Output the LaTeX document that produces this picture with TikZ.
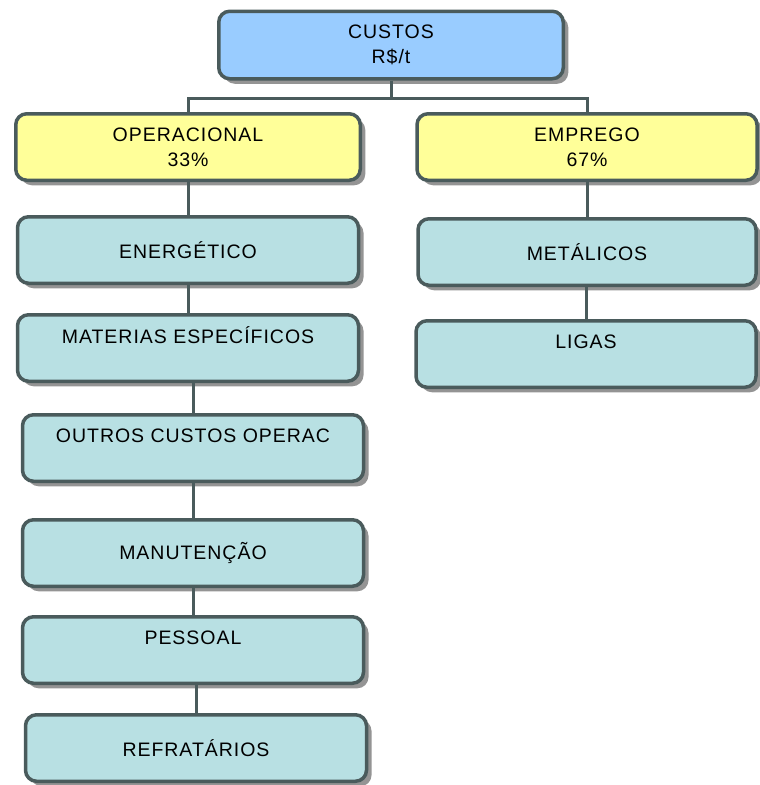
\documentclass[tikz,border=0pt]{standalone}
\usepackage{fontspec}
\setmainfont{Liberation Sans}[LetterSpace=5]
\usepackage{tikz}
\usetikzlibrary{positioning,shadows}
\definecolor{CustoBlue}{HTML}{99CCFF}
\definecolor{CustoYellow}{HTML}{FFFF99}
\definecolor{CustoTeal}{HTML}{B8E0E3}
\definecolor{CustoSlate}{HTML}{4A5B5C}

\begin{document}
\begin{tikzpicture}[
            font=\fontsize{19.5}{25}\selectfont,
            box/.style={draw=CustoSlate, line width=3.5pt, rounded corners=11pt, minimum width=341pt, minimum height=66.5pt, inner sep=0pt, align=center,
                drop shadow={shadow xshift=5pt, shadow yshift=-5pt, fill=black!42, opacity=1}},
            rootbox/.style={box, fill=CustoBlue, minimum width=344.5pt, minimum height=67.5pt},
            groupbox/.style={box, fill=CustoYellow},
            itembox/.style={box, fill=CustoTeal},
            link/.style={draw=CustoSlate, line width=3pt},
        ]
        \useasboundingbox (0,0) rectangle (760pt,-785pt);

        \node[rootbox] (custos) at (391pt,-45pt) {CUSTOS\\R\$/t};
        \node[groupbox, minimum width=344.5pt] (oper) at (188pt,-147pt) {OPERACIONAL\\33\%};
        \node[groupbox, minimum width=340pt] (empreg) at (587pt,-147pt) {EMPREGO\\67\%};

        \node[itembox, below=33pt of oper] (energ) {ENERGÉTICO};
        \node[itembox, below=28pt of energ] (mater) {MATERIAS ESPECÍFICOS\\ \mbox{}};
        \node[itembox, below=30pt of mater, xshift=5pt] (outros) {OUTROS CUSTOS OPERAC\\ \mbox{}};
        \node[itembox, below=35pt of outros] (manut) {MANUTENÇÃO};
        \node[itembox, below=27pt of manut] (pessoal) {PESSOAL\\ \mbox{}};
        \node[itembox, below=28pt of pessoal, xshift=3pt] (refrat) {REFRATÁRIOS};

        \node[itembox, below=35pt of empreg, minimum width=338pt] (metal) {METÁLICOS};
        \node[itembox, below=32pt of metal, minimum width=340pt, xshift=-1pt] (ligas) {LIGAS\\ \mbox{}};

        \draw[link] (custos.south) -- ++(0,-18pt) coordinate (bus);
        \draw[link] (oper.north) |- (bus) -| (empreg.north);

        \draw[link] (energ.north) -- (energ.north |- oper.south);
        \draw[link] (mater.north) -- (mater.north |- energ.south);
        \draw[link] (outros.north) -- (outros.north |- mater.south);
        \draw[link] (manut.north) -- (manut.north |- outros.south);
        \draw[link] (pessoal.north) -- (pessoal.north |- manut.south);
        \draw[link] (refrat.north) -- (refrat.north |- pessoal.south);

        \draw[link] (metal.north) -- (metal.north |- empreg.south);
        \draw[link] (ligas.north) -- (ligas.north |- metal.south);
    \end{tikzpicture}
\end{document}
